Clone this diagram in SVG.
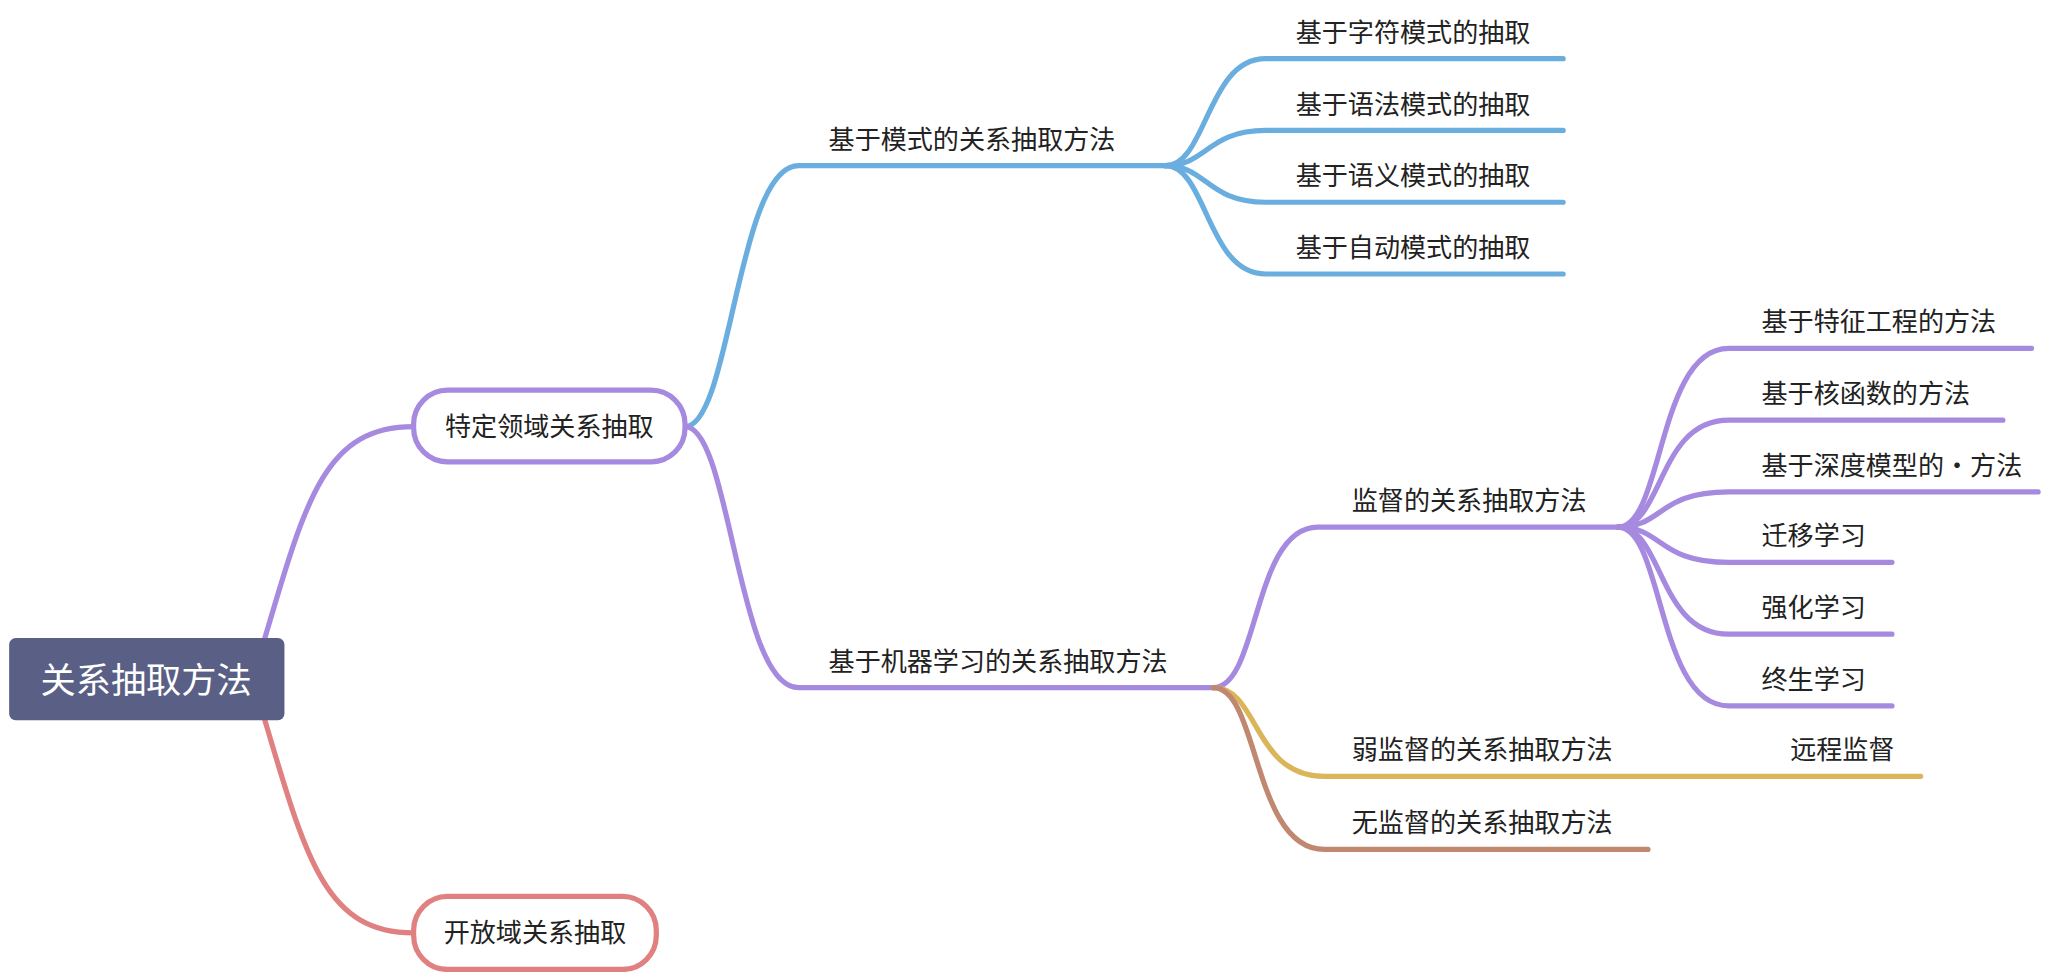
<svg xmlns="http://www.w3.org/2000/svg" width="2046" height="972" viewBox="0 0 2046 972">
<style>
text{font-family:"Noto Sans CJK SC","Noto Sans",sans-serif;font-size:20px;fill:#222}
.c{fill:none;stroke-width:4;stroke-linecap:round}
.p{stroke:#a68ae0}.b{stroke:#6aaee0}.r{stroke:#e08080}.y{stroke:#dbb55a}.br{stroke:#c08870}
</style>
<rect width="2046" height="972" fill="#fff"/>
<g transform="scale(1.3048)">
<g id="connectors">
<path class="c p" d="M203 489 C235 380 250 327 317 327"/>
<path class="c r" d="M203 552 C235 660 250 715 317 715"/>
<path class="c b" d="M525 327 C560 327 565 127 612 127 L893 127"/>
<path class="c p" d="M525 327 C560 327 565 527 612 527 L930 527"/>
<path class="c b" d="M893 127 C925 127 925 45 970 45 L1198 45"/>
<path class="c b" d="M893 127 C925 127 925 100 970 100 L1198 100"/>
<path class="c b" d="M893 127 C925 127 925 155 970 155 L1198 155"/>
<path class="c b" d="M893 127 C925 127 925 210 970 210 L1198 210"/>
<path class="c p" d="M930 527 C965 527 960 404 1010 404 L1240 404"/>
<path class="c p" d="M1240 404 C1275 404 1270 267 1325 267 L1557 267"/>
<path class="c p" d="M1240 404 C1275 404 1270 322 1325 322 L1535 322"/>
<path class="c p" d="M1240 404 C1275 404 1270 377 1325 377 L1562 377"/>
<path class="c p" d="M1240 404 C1275 404 1270 431 1325 431 L1450 431"/>
<path class="c p" d="M1240 404 C1275 404 1270 486 1325 486 L1450 486"/>
<path class="c p" d="M1240 404 C1275 404 1270 541 1325 541 L1450 541"/>
<path class="c y" d="M930 527 C965 527 960 595 1015 595 L1472 595"/>
<path class="c br" d="M930 527 C965 527 960 651 1015 651 L1263 651"/>
</g>
<g id="root"><rect x="7" y="489" width="211" height="63" rx="5" fill="#5a5f85"/><text x="112" y="531" text-anchor="middle" style="font-size:27px;fill:#fff">关系抽取方法</text></g>
<g id="n1"><rect x="317" y="299" width="208" height="55" rx="26" fill="#fff" stroke="#a68ae0" stroke-width="4"/><text x="421" y="334" text-anchor="middle">特定领域关系抽取</text></g>
<g id="n2"><rect x="317" y="687" width="186" height="56" rx="26" fill="#fff" stroke="#e08080" stroke-width="4"/><text x="410" y="722" text-anchor="middle">开放域关系抽取</text></g>
<g id="n3"><text x="635" y="114">基于模式的关系抽取方法</text></g>
<g id="n4"><text x="635" y="514">基于机器学习的关系抽取方法</text></g>
<g id="n5"><text x="993" y="32">基于字符模式的抽取</text></g>
<g id="n6"><text x="993" y="87">基于语法模式的抽取</text></g>
<g id="n7"><text x="993" y="142">基于语义模式的抽取</text></g>
<g id="n8"><text x="993" y="197">基于自动模式的抽取</text></g>
<g id="n9"><text x="1036" y="391">监督的关系抽取方法</text></g>
<g id="n10"><text x="1350" y="254">基于特征工程的方法</text></g>
<g id="n11"><text x="1350" y="309">基于核函数的方法</text></g>
<g id="n12"><text x="1350" y="364">基于深度模型的·方法</text></g>
<g id="n13"><text x="1350" y="418">迁移学习</text></g>
<g id="n14"><text x="1350" y="473">强化学习</text></g>
<g id="n15"><text x="1350" y="528">终生学习</text></g>
<g id="n16"><text x="1036" y="582">弱监督的关系抽取方法</text></g>
<g id="n17"><text x="1372" y="582">远程监督</text></g>
<g id="n18"><text x="1036" y="638">无监督的关系抽取方法</text></g>
</g>
</svg>
